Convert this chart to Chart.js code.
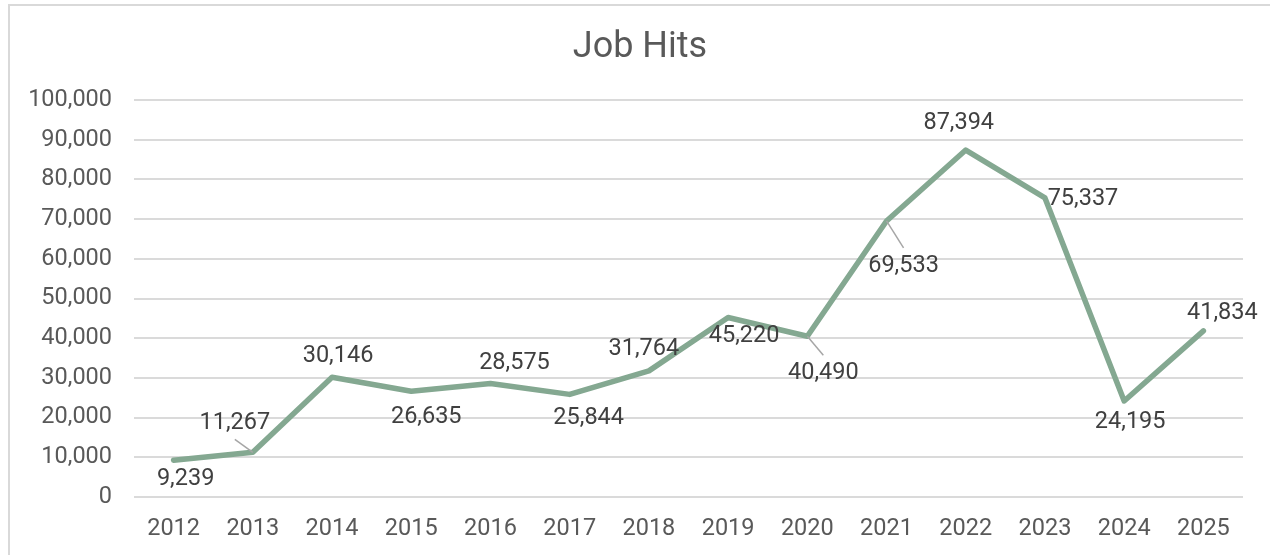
<!DOCTYPE html>
<html>
<head>
<meta charset="utf-8">
<title>Job Hits</title>
<script src="https://cdn.jsdelivr.net/npm/chart.js@4.4.1/dist/chart.umd.min.js"></script>
<style>
  html, body { margin: 0; padding: 0; background: #fff; overflow: hidden; }
  #frame {
    position: absolute; left: 8px; top: 4px; width: 1300px; height: 600px;
    border: 2px solid #d9d9d9; box-sizing: border-box;
  }
  #jobChart { position: absolute; left: 0; top: 0; }
</style>
</head>
<body>
<div id="frame"></div>
<canvas id="jobChart" width="1270" height="555"></canvas>
<script>
// yearly job hits
const years = ["2012", "2013", "2014", "2015", "2016", "2017", "2018",
               "2019", "2020", "2021", "2022", "2023", "2024", "2025"];
const jobHits = [9239, 11267, 30146, 26635, 28575, 25844, 31764,
                 45220, 40490, 69533, 87394, 75337, 24195, 41834];
const yTicks = [0, 10000, 20000, 30000, 40000, 50000, 60000, 70000, 80000, 90000, 100000];
const chartTitle = "Job Hits";

// where each value label sits relative to its point, and which ones get a leader line
const labelOffsets = [[12, 18], [-18, -30], [6, -22], [15, 25], [24, -21], [19, 23], [-5, -23],
                      [16, 18], [16, 36], [17, 44], [-7, -28], [38, 0], [6, 20], [19, -19]];
const withLeader = [false, true, false, false, false, false, false,
                    false, true, true, false, false, false, false];

const FONT = "Roboto, 'Liberation Sans', Arial, sans-serif";

// title centred on the whole frame rather than the plot
const frameTitle = {
  id: "frameTitle",
  afterDraw(chart) {
    const ctx = chart.ctx;
    ctx.save();
    ctx.font = "36px " + FONT;
    ctx.fillStyle = "#595959";
    ctx.textAlign = "center";
    ctx.textBaseline = "middle";
    ctx.fillText(chartTitle, 640, 47.5);
    ctx.restore();
  }
};

// draws value labels (and leader lines) on top of the line
const valueLabels = {
  id: "valueLabels",
  afterDatasetsDraw(chart) {
    const ctx = chart.ctx;
    const meta = chart.getDatasetMeta(0);
    ctx.save();
    ctx.font = "23.5px " + FONT;
    ctx.textAlign = "center";
    ctx.textBaseline = "middle";
    meta.data.forEach((pt, i) => {
      const lx = pt.x + labelOffsets[i][0];
      const ly = pt.y + labelOffsets[i][1];
      if (withLeader[i]) {
        const ey = ly + (ly < pt.y ? 17 : -17);
        ctx.strokeStyle = "#a6a6a6";
        ctx.lineWidth = 1.5;
        ctx.beginPath();
        ctx.moveTo(pt.x, pt.y);
        ctx.lineTo(lx, ey);
        ctx.stroke();
      }
      ctx.fillStyle = "#404040";
      ctx.fillText(jobHits[i].toLocaleString("en-US"), lx, ly + 1);
    });
    ctx.restore();
  }
};

const ctx = document.getElementById("jobChart").getContext("2d");
new Chart(ctx, {
  type: "line",
  data: {
    labels: years,
    datasets: [{
      label: chartTitle,
      data: jobHits,
      borderColor: "#84a891",
      borderWidth: 5.5,
      borderCapStyle: "round",
      borderJoinStyle: "round",
      pointRadius: 0,
      tension: 0,
      fill: false
    }]
  },
  options: {
    responsive: false,
    devicePixelRatio: 1,
    animation: false,
    layout: { padding: { left: 0, right: 27, top: 100, bottom: 0 } },
    plugins: {
      legend: { display: false },
      tooltip: { enabled: false },
      title: { display: false }
    },
    scales: {
      x: {
        offset: true,
        grid: { display: false },
        border: { display: false },
        ticks: {
          color: "#595959",
          font: { family: FONT, size: 23.5 },
          padding: 10,
          maxRotation: 0,
          autoSkip: false
        },
        afterFit(scale) { scale.height = 58; }
      },
      y: {
        min: 0,
        max: 100000,
        afterBuildTicks(scale) { scale.ticks = yTicks.map(v => ({ value: v })); },
        grid: { color: "#dadada", lineWidth: 2, drawTicks: false },
        border: { display: false },
        ticks: {
          color: "#595959",
          font: { family: FONT, size: 23.5 },
          padding: 22,
          callback: v => v.toLocaleString("en-US")
        },
        afterFit(scale) { scale.width = 134; }
      }
    }
  },
  plugins: [valueLabels, frameTitle]
});
</script>
</body>
</html>
